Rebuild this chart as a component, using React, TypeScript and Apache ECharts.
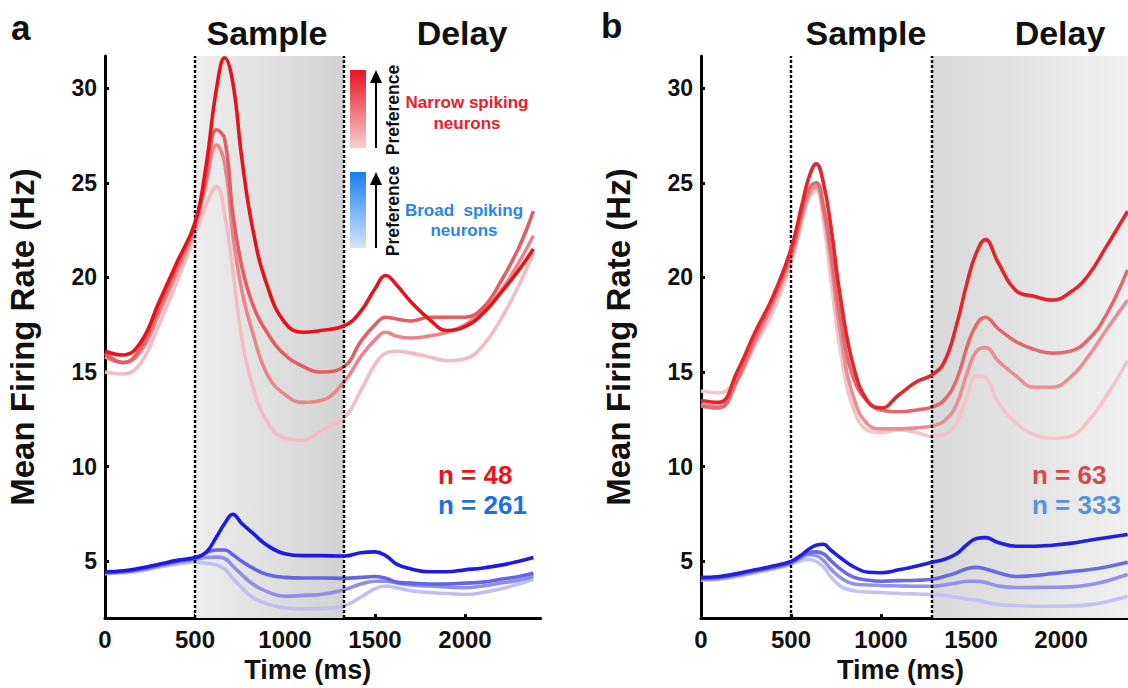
import React, { useEffect, useRef } from "react";
import * as echarts from "echarts";

// ---------- data ----------
const timeA = [0, 100, 200, 300, 400, 500, 560, 620, 665, 710, 760, 820, 900, 1000, 1100, 1200, 1330, 1420, 1500, 1560, 1620, 1700, 1800, 1900, 2000, 2100, 2200, 2300, 2380];
const narrowA1 = [16.1, 15.9, 16.6, 18.7, 20.8, 22.9, 25.8, 30.0, 31.6, 30.3, 26.3, 22.6, 19.6, 17.6, 17.1, 17.2, 17.45, 18.2, 19.4, 20.1, 19.6, 18.7, 17.8, 17.2, 17.4, 18.1, 19.2, 20.4, 21.5];
const narrowA2 = [16.0, 15.5, 16.3, 18.4, 20.6, 22.8, 25.2, 27.8, 27.3, 23.4, 20.6, 18.6, 17.1, 15.9, 15.3, 15.0, 15.3, 16.6, 17.5, 17.9, 17.8, 17.7, 17.9, 17.9, 17.9, 18.4, 19.8, 21.6, 23.5];
const narrowA3 = [15.8, 15.5, 16.1, 18.1, 20.3, 22.6, 24.9, 27.0, 26.0, 22.3, 19.3, 17.1, 14.9, 13.8, 13.4, 13.5, 14.5, 15.8, 16.7, 17.1, 16.9, 16.8, 16.9, 17.1, 17.5, 18.2, 19.3, 20.8, 22.2];
const narrowA4 = [15.0, 14.9, 15.5, 17.5, 19.8, 22.2, 23.8, 24.8, 23.3, 20.4, 16.8, 14.3, 12.4, 11.5, 11.4, 11.9, 12.6, 14.0, 15.4, 16.0, 16.1, 16.0, 15.8, 15.6, 15.7, 16.4, 17.8, 19.6, 21.3];
const broadA1 = [4.45, 4.5, 4.65, 4.85, 5.05, 5.2, 5.45, 6.3, 7.0, 7.48, 7.0, 6.5, 5.85, 5.4, 5.3, 5.3, 5.28, 5.45, 5.5, 5.3, 4.85, 4.6, 4.45, 4.45, 4.55, 4.65, 4.8, 5.0, 5.2];
const broadA2 = [4.4, 4.45, 4.6, 4.8, 5.0, 5.15, 5.45, 5.6, 5.6, 5.35, 5.0, 4.65, 4.3, 4.15, 4.12, 4.12, 4.1, 4.15, 4.2, 4.1, 3.9, 3.85, 3.8, 3.8, 3.85, 3.9, 4.05, 4.2, 4.37];
const broadA3 = [4.4, 4.45, 4.55, 4.75, 4.95, 5.1, 5.2, 5.22, 5.15, 4.75, 4.3, 3.8, 3.4, 3.15, 3.2, 3.25, 3.5, 3.8, 3.95, 3.95, 3.85, 3.75, 3.7, 3.65, 3.6, 3.7, 3.85, 4.0, 4.2];
const broadA4 = [4.35, 4.4, 4.5, 4.7, 4.85, 4.95, 4.9, 4.8, 4.6, 4.1, 3.6, 3.1, 2.75, 2.55, 2.48, 2.5, 2.65, 3.1, 3.55, 3.7, 3.6, 3.45, 3.35, 3.3, 3.25, 3.35, 3.55, 3.8, 4.05];

const timeB = [0, 100, 200, 300, 400, 500, 560, 600, 640, 680, 720, 780, 850, 930, 1000, 1100, 1200, 1283, 1350, 1420, 1480, 1530, 1580, 1650, 1750, 1850, 1950, 2050, 2150, 2250, 2370];
const narrowB1 = [13.5, 13.4, 15.0, 17.1, 19.0, 21.5, 23.8, 25.3, 26.0, 25.0, 22.8, 18.6, 15.2, 13.4, 13.1, 13.8, 14.5, 14.85, 15.5, 17.5, 19.8, 21.3, 22.0, 20.8, 19.3, 19.0, 18.8, 19.2, 20.1, 21.6, 23.5];
const narrowB2 = [13.2, 13.1, 14.6, 16.8, 18.8, 21.2, 23.4, 24.7, 25.0, 23.8, 21.5, 17.5, 14.6, 13.4, 13.0, 12.9, 13.0, 13.15, 13.5, 14.6, 16.4, 17.5, 17.9, 17.3, 16.6, 16.2, 16.0, 16.1, 16.7, 18.0, 20.4];
const narrowB3 = [13.3, 13.2, 14.5, 16.6, 18.6, 21.0, 23.2, 24.4, 24.8, 23.5, 21.0, 16.7, 13.6, 12.2, 12.0, 12.0, 12.05, 12.15, 12.4, 13.3, 15.0, 16.1, 16.3, 15.6, 14.8, 14.2, 14.2, 14.7, 15.8, 17.2, 18.8];
const narrowB4 = [14.0, 13.9, 14.7, 16.4, 18.2, 20.7, 22.9, 24.2, 24.6, 23.0, 20.0, 15.8, 13.0, 11.9, 11.8, 11.95, 11.8, 11.6, 11.7, 12.3, 13.8, 14.8, 14.7, 13.4, 12.3, 11.7, 11.5, 11.6, 12.4, 13.7, 15.6];
const broadB1 = [4.15, 4.2, 4.35, 4.55, 4.75, 5.0, 5.35, 5.65, 5.85, 5.9, 5.6, 5.15, 4.7, 4.42, 4.4, 4.55, 4.75, 4.95, 5.1, 5.4, 5.9, 6.2, 6.25, 6.0, 5.8, 5.8, 5.85, 5.95, 6.1, 6.25, 6.42];
const broadB2 = [4.1, 4.15, 4.3, 4.5, 4.7, 4.95, 5.3, 5.45, 5.5, 5.4, 5.05, 4.55, 4.15, 4.0, 3.95, 3.98, 4.0, 4.05, 4.2, 4.4, 4.62, 4.68, 4.6, 4.4, 4.2, 4.25, 4.35, 4.45, 4.55, 4.7, 4.95];
const broadB3 = [4.05, 4.1, 4.25, 4.45, 4.65, 4.9, 5.2, 5.35, 5.3, 5.05, 4.6, 4.1, 3.8, 3.75, 3.72, 3.7, 3.68, 3.68, 3.75, 3.85, 3.95, 3.95, 3.88, 3.7, 3.62, 3.62, 3.63, 3.65, 3.75, 3.95, 4.3];
const broadB4 = [4.0, 4.05, 4.2, 4.4, 4.6, 4.85, 5.05, 5.1, 5.0, 4.7, 4.2, 3.65, 3.45, 3.38, 3.35, 3.3, 3.27, 3.25, 3.2, 3.1, 3.0, 2.95, 2.85, 2.72, 2.66, 2.63, 2.63, 2.64, 2.7, 2.85, 3.15];

const xTicks = [0, 500, 1000, 1500, 2000];
const yTicks = [5, 10, 15, 20, 25, 30];
const sampleA = [500, 1328];
const sampleB = [500, 1283];
const delayBEnd = 2372;
const nLabelsA = ["n = 48", "n = 261"];
const nLabelsB = ["n = 63", "n = 333"];

const FONT = 'Arial, "Liberation Sans", Helvetica, sans-serif';

export default function App() {
  const ref = useRef<HTMLDivElement>(null);
  useEffect(() => {
    if (!ref.current) return;
    const chart = echarts.init(ref.current, null, { renderer: "svg" });

    const mk = (times: number[], vals: number[], color: string, idx: number, z: number) => ({
      type: "line",
      xAxisIndex: idx,
      yAxisIndex: idx,
      data: times.map((t, i) => [t, vals[i]]),
      smooth: 0.45,
      showSymbol: false,
      symbol: "none",
      lineStyle: { color, width: 3.6 },
      z,
      silent: true,
    });

    const xAxis = (idx: number, max: number, center: number) => ({
      type: "value",
      gridIndex: idx,
      min: 0,
      max,
      splitLine: { show: false },
      axisLine: { show: true, lineStyle: { color: "#000", width: 3 } },
      axisTick: { show: true, inside: true, length: 4, lineStyle: { color: "#000", width: 3 }, customValues: xTicks },
      axisLabel: {
        customValues: xTicks,
        formatter: (v: number) => String(v),
        color: "#111", fontSize: 24, fontWeight: "bold", fontFamily: FONT, margin: 9,
      },
      name: "Time (ms)",
      nameLocation: "middle",
      nameGap: 35,
      nameTextStyle: { fontSize: 27, fontWeight: "bold", color: "#111", fontFamily: FONT, padding: [0, center, 0, 0] },
    });
    const yAxis = (idx: number) => ({
      type: "value",
      gridIndex: idx,
      min: 2,
      max: 31.7,
      splitLine: { show: false },
      axisLine: { show: true, lineStyle: { color: "#000", width: 3 } },
      axisTick: { show: true, inside: true, length: 4, lineStyle: { color: "#000", width: 3 }, customValues: yTicks },
      axisLabel: { customValues: yTicks, color: "#111", fontSize: 23, fontWeight: "bold", fontFamily: FONT, margin: 8 },
      name: "Mean Firing Rate (Hz)",
      nameLocation: "middle",
      nameRotate: 90,
      nameGap: 66,
      nameTextStyle: { fontSize: 33, fontWeight: "bold", color: "#111", fontFamily: FONT },
    });

    const dotted = { color: "#000", width: 2.4, type: [3, 2] };

    const shadeSeries = (idx: number, range: number[], colors: string[]) => ({
      type: "line",
      xAxisIndex: idx,
      yAxisIndex: idx,
      data: [],
      z: 1,
      silent: true,
      markArea: {
        silent: true,
        itemStyle: {
          color: new echarts.graphic.LinearGradient(0, 0, 1, 0, [
            { offset: 0, color: colors[0] },
            { offset: 1, color: colors[1] },
          ]),
        },
        data: [[{ xAxis: range[0] }, { xAxis: range[1] }]],
      },
    });
    const lineSeries = (idx: number, xs: number[]) => ({
      type: "line",
      xAxisIndex: idx,
      yAxisIndex: idx,
      data: [],
      z: 10,
      silent: true,
      markLine: {
        silent: true,
        symbol: "none",
        label: { show: false },
        lineStyle: dotted,
        data: xs.map((x) => ({ xAxis: x })),
      },
    });

    const redA = ["#f4bcc0", "#e9868b", "#e05e64", "#e5141c"];
    const blueA = ["#bfbff3", "#8f8fea", "#6464e4", "#1c1ce0"];
    const redB = ["#f3c5c8", "#e98f93", "#e06a6e", "#e3262a"];
    const blueB = ["#c2c2f3", "#9292ea", "#6a6ae4", "#2020dd"];

    const option: any = {
      animation: false,
      grid: [
        { left: 105, top: 56, width: 435.6, height: 563 },
        { left: 701, top: 56, width: 427, height: 563 },
      ],
      xAxis: [xAxis(0, 2420, 30), xAxis(1, delayBEnd, 28)],
      yAxis: [yAxis(0), yAxis(1)],
      series: [
        shadeSeries(0, sampleA, ["#ededed", "#d2d2d2"]),
        shadeSeries(1, [sampleB[1], delayBEnd], ["#d8d8d8", "#f0f0f0"]),
        mk(timeA, narrowA4, redA[0], 0, 2),
        mk(timeA, narrowA3, redA[1], 0, 3),
        mk(timeA, narrowA2, redA[2], 0, 4),
        mk(timeA, narrowA1, redA[3], 0, 5),
        mk(timeA, broadA4, blueA[0], 0, 2),
        mk(timeA, broadA3, blueA[1], 0, 3),
        mk(timeA, broadA2, blueA[2], 0, 4),
        mk(timeA, broadA1, blueA[3], 0, 5),
        mk(timeB, narrowB4, redB[0], 1, 2),
        mk(timeB, narrowB3, redB[1], 1, 3),
        mk(timeB, narrowB2, redB[2], 1, 4),
        mk(timeB, narrowB1, redB[3], 1, 5),
        mk(timeB, broadB4, blueB[0], 1, 2),
        mk(timeB, broadB3, blueB[1], 1, 3),
        mk(timeB, broadB2, blueB[2], 1, 4),
        mk(timeB, broadB1, blueB[3], 1, 5),
        lineSeries(0, sampleA),
        lineSeries(1, sampleB),
      ],
      graphic: [
        { type: "text", left: 11, top: 10, style: { text: "a", fontSize: 35, fontWeight: "bold", fontFamily: FONT, fill: "#111" } },
        { type: "text", left: 601, top: 8, style: { text: "b", fontSize: 35, fontWeight: "bold", fontFamily: FONT, fill: "#111" } },
        { type: "text", x: 267, y: 33, style: { text: "Sample", fontSize: 34, fontWeight: "bold", fontFamily: FONT, fill: "#111", align: "center", verticalAlign: "middle" } },
        { type: "text", x: 462, y: 33, style: { text: "Delay", fontSize: 34, fontWeight: "bold", fontFamily: FONT, fill: "#111", align: "center", verticalAlign: "middle" } },
        { type: "text", x: 866, y: 33, style: { text: "Sample", fontSize: 34, fontWeight: "bold", fontFamily: FONT, fill: "#111", align: "center", verticalAlign: "middle" } },
        { type: "text", x: 1060, y: 33, style: { text: "Delay", fontSize: 34, fontWeight: "bold", fontFamily: FONT, fill: "#111", align: "center", verticalAlign: "middle" } },
        // legend: narrow
        {
          type: "rect", shape: { x: 350, y: 70, width: 16, height: 78 }, z: 20,
          style: { fill: new echarts.graphic.LinearGradient(0, 0, 0, 1, [{ offset: 0, color: "#e8141e" }, { offset: 1, color: "#f9cdd0" }]) },
        },
        { type: "line", shape: { x1: 376, y1: 148, x2: 376, y2: 80 }, z: 20, style: { stroke: "#000", lineWidth: 2 } },
        { type: "polygon", shape: { points: [[370, 83], [382, 83], [376, 70]] }, z: 20, style: { fill: "#000" } },
        { type: "text", x: 393, y: 110, rotation: Math.PI / 2, z: 20, style: { text: "Preference", fontSize: 17.5, fontWeight: "bold", fontFamily: FONT, fill: "#111", align: "center", verticalAlign: "middle" } },
        { type: "text", x: 467, y: 102, z: 20, style: { text: "Narrow spiking", fontSize: 17, fontWeight: "bold", fontFamily: FONT, fill: "#e8202a", align: "center", verticalAlign: "middle" } },
        { type: "text", x: 467, y: 123, z: 20, style: { text: "neurons", fontSize: 17, fontWeight: "bold", fontFamily: FONT, fill: "#e8202a", align: "center", verticalAlign: "middle" } },
        // legend: broad
        {
          type: "rect", shape: { x: 350, y: 172, width: 16, height: 76 }, z: 20,
          style: { fill: new echarts.graphic.LinearGradient(0, 0, 0, 1, [{ offset: 0, color: "#1a7ef0" }, { offset: 1, color: "#d3e6fb" }]) },
        },
        { type: "line", shape: { x1: 376, y1: 248, x2: 376, y2: 182 }, z: 20, style: { stroke: "#000", lineWidth: 2 } },
        { type: "polygon", shape: { points: [[370, 185], [382, 185], [376, 172]] }, z: 20, style: { fill: "#000" } },
        { type: "text", x: 393, y: 211, rotation: Math.PI / 2, z: 20, style: { text: "Preference", fontSize: 17.5, fontWeight: "bold", fontFamily: FONT, fill: "#111", align: "center", verticalAlign: "middle" } },
        { type: "text", x: 464, y: 210, z: 20, style: { text: "Broad  spiking", fontSize: 17, fontWeight: "bold", fontFamily: FONT, fill: "#2a86e8", align: "center", verticalAlign: "middle" } },
        { type: "text", x: 464, y: 230, z: 20, style: { text: "neurons", fontSize: 17, fontWeight: "bold", fontFamily: FONT, fill: "#2a86e8", align: "center", verticalAlign: "middle" } },
        // n labels
        { type: "text", x: 438, y: 475, z: 20, style: { text: nLabelsA[0], fontSize: 26, fontWeight: "bold", fontFamily: FONT, fill: "#e8141e", verticalAlign: "middle" } },
        { type: "text", x: 438, y: 505, z: 20, style: { text: nLabelsA[1], fontSize: 26, fontWeight: "bold", fontFamily: FONT, fill: "#1f6fe0", verticalAlign: "middle" } },
        { type: "text", x: 1032, y: 475, z: 20, style: { text: nLabelsB[0], fontSize: 26, fontWeight: "bold", fontFamily: FONT, fill: "#d9484c", verticalAlign: "middle" } },
        { type: "text", x: 1032, y: 505, z: 20, style: { text: nLabelsB[1], fontSize: 26, fontWeight: "bold", fontFamily: FONT, fill: "#5b92d9", verticalAlign: "middle" } },
      ],
    };
    chart.setOption(option);
    return () => chart.dispose();
  }, []);
  return <div ref={ref} style={{ position: "absolute", left: 0, top: 0, width: 1128, height: 688, background: "#fff" }} />;
}
